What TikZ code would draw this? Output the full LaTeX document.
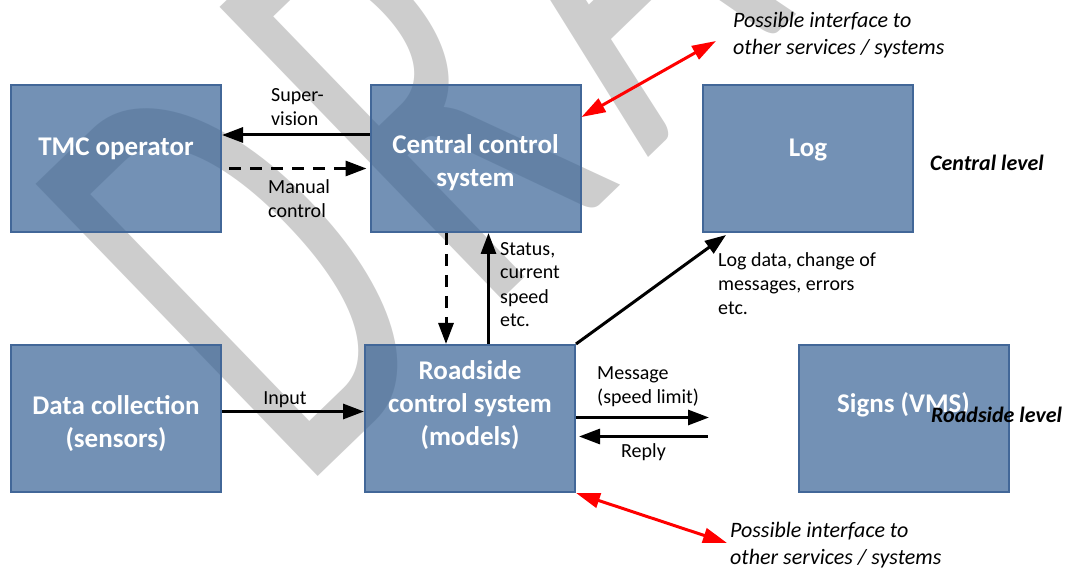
\documentclass[tikz,border=0pt]{standalone}
\usepackage{fontspec}
\usepackage{graphicx}
\setmainfont{Carlito}
\newfontfamily\wmfont{Carlito}
\usetikzlibrary{arrows.meta,calc}
\definecolor{boxfill}{RGB}{55,98,149}
\definecolor{boxedge}{RGB}{66,103,152}
\definecolor{wmgray}{RGB}{205,205,205}
\definecolor{ifred}{RGB}{255,0,0}
\newcommand{\wmletter}[1]{\scalebox{0.57}[1]{#1}}
\begin{document}
\begin{tikzpicture}[x=1pt,y=-1pt,
  box/.style={draw=boxedge, line width=2pt, fill=boxfill, fill opacity=0.7,
    minimum width=210pt, minimum height=147pt, inner sep=0pt},
  boxtext/.style={text=white, font=\fontsize{27}{33}\selectfont\bfseries,
    align=center, inner sep=0pt, anchor=base},
  note/.style={font=\fontsize{20}{24}\selectfont, align=left, inner sep=0pt,
    anchor=base west},
  ifnote/.style={font=\fontsize{22}{27}\selectfont\itshape, align=left,
    inner sep=0pt, anchor=base west},
  levelnote/.style={font=\fontsize{22}{27}\selectfont\bfseries\itshape,
    inner sep=0pt, anchor=base west},
  flow/.style={line width=3pt, -{Triangle[length=21pt,width=15pt]}},
  flowdash/.style={flow, dash pattern=on 12pt off 9pt},
  iface/.style={ifred, line width=3pt,
    {Triangle[length=24pt,width=15pt]}-{Triangle[length=24pt,width=15pt]}},
  wm/.style={text=wmgray, font=\wmfont\fontsize{633}{633}\selectfont,
    inner sep=0pt, anchor=base west}
]
\useasboundingbox (0,0) rectangle (1066,569);

% watermark lettering behind everything
\begin{scope}
  \clip (0,0) rectangle (1066,569);
  \begin{scope}[shift={(300.6,493.8)}, rotate=44, transform shape]
    \node[wm] (wmD) at (0,0)   {\wmletter{D}};
    \node[wm] (wmR) at (254,0) {\wmletter{R}};
    \node[wm] (wmA) at (482,0) {\wmletter{A}};
    \node[wm] (wmF) at (723,0) {\wmletter{F}};
    \node[wm] (wmT) at (921,0) {\wmletter{T}};
  \end{scope}
\end{scope}

% system boxes
\node[box] (tmc)      at (116,158.5)   {};
\node[box] (central)  at (475.5,158.5) {};
\node[box] (log)      at (808,158.5)   {};
\node[box] (datac)    at (116,418.5)   {};
\node[box] (roadside) at (470,418.5)   {};
\node[box] (signs)    at (903.5,418.5) {};

% box captions (anchored at the baseline of their last line)
\node[boxtext] (tmct)   at (116,156)   {TMC operator};
\node[boxtext] (centt)  at (475.5,187) {Central control\\system};
\node[boxtext] (logt)   at (808,157)   {Log};
\node[boxtext] (datat)  at (116,447)   {Data collection\\(sensors)};
\node[boxtext] (roadt)  at (470,445)   {Roadside\\control system\\(models)};
\node[boxtext] (signt)  at (903.5,413) {Signs (VMS)};

% flows between the boxes
\draw[flow] ($(central.west)+(0,-23.5)$) -- ($(tmc.east)+(0,-23.5)$);
\draw[flowdash] ($(tmc.east)+(7,10)$) -- ($(central.west)+(-3,10)$);
\draw[flowdash] ($(central.south)+(-29.5,0)$) -- ($(roadside.north)+(-24,0)$);
\draw[flow] ($(roadside.north)+(18.5,0)$) -- ($(central.south)+(13,0)$);
\draw[flow] (roadside.north east) -- ($(log.south west)+(24,2)$);
\draw[flow] ($(datac.east)+(0,-7)$) -- ($(roadside.west)+(0,-7)$);
\draw[flow] ($(roadside.east)+(0,-1)$) -- ($(signs.west)+(-88.5,-1)$);
\draw[flow] ($(signs.west)+(-90,18)$) -- ($(roadside.east)+(3,18)$);

% external interfaces
\coordinate (ifA) at (716,41);
\coordinate (ifB) at (727,543);
\draw[iface] (ifA) -- ($(central.north east)+(0,33)$);
\draw[iface] (roadside.south east) -- (ifB);

% labels (anchored at the baseline of their last line)
\node[note] (super)   at (271,126) {Super-\\vision};
\node[note] (manual)  at (268,218) {Manual\\control};
\node[note] (status)  at (500,327) {Status,\\current\\speed\\etc.};
\node[note] (logdata) at (718,315) {Log data, change of\\messages, errors\\etc.};
\node[note, anchor=base] (input) at (285,404) {Input};
\node[note] (message) at (597,403) {Message\\(speed limit)};
\node[note] (reply)   at (621,457) {Reply};

\node[ifnote] (iftop) at (733,55)  {Possible interface to\\other services / systems};
\node[ifnote] (ifbot) at (730,564) {Possible interface to\\other services / systems};

\node[levelnote] (central level) at (930,171) {Central level};
\node[levelnote] (roadside level) at (931,422) {Roadside level};
\end{tikzpicture}
\end{document}
